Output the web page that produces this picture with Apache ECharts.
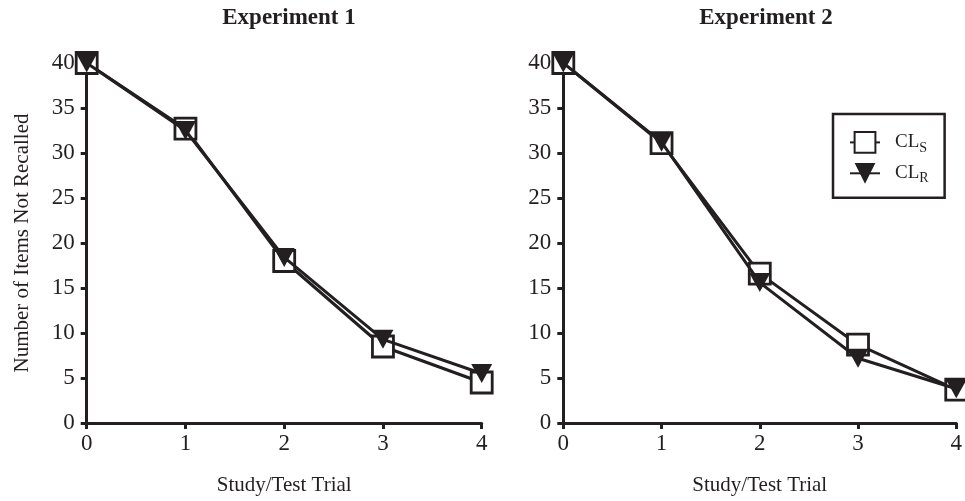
<!DOCTYPE html>
<html><head><meta charset="utf-8">
<script src="https://cdn.jsdelivr.net/npm/echarts@6/dist/echarts.min.js"></script>
<style>html,body{margin:0;padding:0;background:#fff}#c{width:965px;height:501px}</style>
</head><body><div id="c"></div>
<script>
var trials = [0, 1, 2, 3, 4];
var yTicks = [0, 5, 10, 15, 20, 25, 30, 35, 40];
var titles = ['Experiment 1', 'Experiment 2'];
var seriesNames = ['CL_S', 'CL_R'];
var exp1_CLS = [40, 32.7, 18.0, 8.5, 4.5];
var exp1_CLR = [40, 32.5, 18.4, 9.3, 5.5];
var exp2_CLS = [40, 31.1, 16.6, 8.7, 3.7];
var exp2_CLR = [40, 31.2, 15.6, 7.2, 3.8];

var ink = '#231f20';
var font = 'Liberation Serif';
function pairs(v){ return trials.map(function(t,i){ return [t, v[i]]; }); }

var grids = [
  {left: 86.7, right: 483.3, top: 63, bottom: 77},
  {left: 563.3, right: 6, top: 63, bottom: 77}
];
function xAx(i){ return {
  gridIndex: i, type: 'value', min: trials[0], max: trials[trials.length-1], interval: 1,
  name: 'Study/Test Trial', nameLocation: 'middle', nameGap: 52,
  nameTextStyle: {fontFamily: font, fontSize: 21, color: ink},
  axisLine: {show: true, onZero: false, lineStyle: {color: ink, width: 3}},
  axisTick: {show: true, length: 6, lineStyle: {color: ink, width: 3}},
  axisLabel: {fontFamily: font, fontSize: 23, color: ink, margin: 9},
  splitLine: {show: false}
};}
function yAx(i){ return {
  gridIndex: i, type: 'value', min: yTicks[0], max: yTicks[yTicks.length-1], interval: 5,
  name: i === 0 ? 'Number of Items Not Recalled' : '', nameLocation: 'middle', nameGap: 54,
  nameTextStyle: {fontFamily: font, fontSize: 21, color: ink},
  axisLine: {show: true, onZero: false, lineStyle: {color: ink, width: 3}},
  axisTick: {show: true, length: 6, lineStyle: {color: ink, width: 3}},
  axisLabel: {fontFamily: font, fontSize: 23, color: ink, margin: 12},
  splitLine: {show: false}
};}
function sqSeries(i, v){ return {
  name: seriesNames[0], type: 'line', xAxisIndex: i, yAxisIndex: i, data: pairs(v),
  symbol: 'rect', symbolSize: 21, showAllSymbol: true, z: 2,
  lineStyle: {color: ink, width: 3},
  itemStyle: {color: '#fff', borderColor: ink, borderWidth: 2.8}
};}
function triSeries(i, v){ return {
  name: seriesNames[1], type: 'line', xAxisIndex: i, yAxisIndex: i, data: pairs(v),
  symbol: 'triangle', symbolRotate: 180, symbolSize: [21, 19], showAllSymbol: true, z: 3,
  lineStyle: {color: ink, width: 3},
  itemStyle: {color: ink, borderColor: ink, borderWidth: 0}
};}

var option = {
  backgroundColor: '#fff',
  animation: false,
  title: [
    {text: titles[0], left: 284, top: 2, textAlign: 'center',
     textStyle: {fontFamily: font, fontSize: 23, fontWeight: 'bold', color: ink}},
    {text: titles[1], left: 761, top: 2, textAlign: 'center',
     textStyle: {fontFamily: font, fontSize: 23, fontWeight: 'bold', color: ink}}
  ],
  legend: {
    data: seriesNames, orient: 'vertical', left: 833, top: 114,
    padding: [17, 16, 12, 16], itemGap: 8,
    borderColor: ink, borderWidth: 2.5, itemWidth: 30, itemHeight: 26,
    formatter: function(n){ var p = n.split('_'); return '{a|' + p[0] + '}{b|' + p[1] + '}'; },
    textStyle: {fontFamily: font, color: ink, rich: {
      a: {fontFamily: font, fontSize: 19, color: ink, padding: [0, 0, 0, 10]},
      b: {fontFamily: font, fontSize: 14, color: ink, padding: [11, 0, 0, 0]}
    }}
  },
  grid: grids,
  xAxis: [xAx(0), xAx(1)],
  yAxis: [yAx(0), yAx(1)],
  series: [sqSeries(0, exp1_CLS), triSeries(0, exp1_CLR), sqSeries(1, exp2_CLS), triSeries(1, exp2_CLR)]
};
var chart = echarts.init(document.getElementById('c'), null, {renderer: 'canvas'});
chart.setOption(option);
</script></body></html>
